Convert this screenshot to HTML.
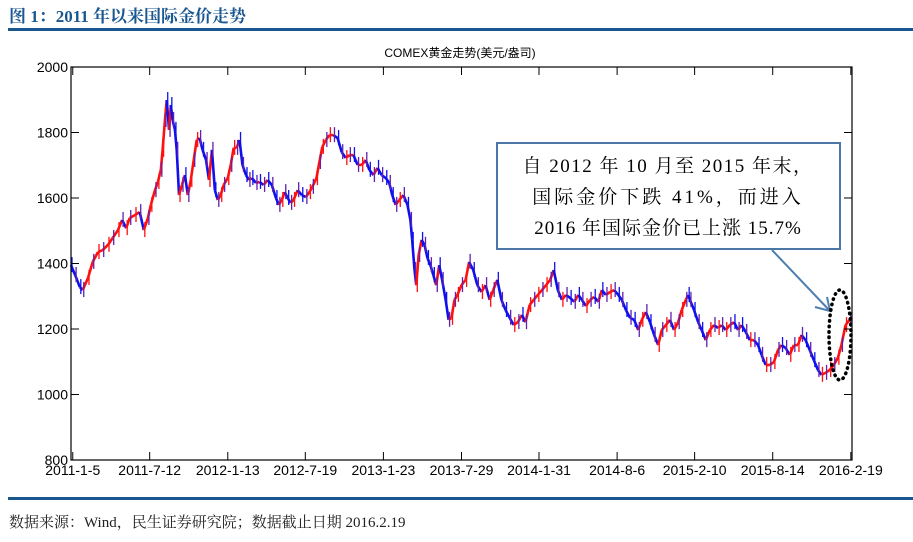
<!DOCTYPE html>
<html><head><meta charset="utf-8">
<style>
body{margin:0;background:#fff;width:913px;height:542px;overflow:hidden;position:relative;font-family:"Liberation Sans","Noto Sans CJK SC",sans-serif}
#hdr{position:absolute;left:9px;top:2px;font:bold 17px "Liberation Serif","Noto Serif CJK SC",serif;color:#1a5790}
#foot{position:absolute;left:9px;top:511px;font:15px "Liberation Serif","Noto Serif CJK SC",serif;color:#222}
</style></head><body>
<div id="hdr">图 1：2011 年以来国际金价走势</div>
<div style="position:absolute;left:8px;top:28px;width:905px;height:3px;background:#1a5790"></div>
<div style="position:absolute;left:8px;top:497px;width:905px;height:3px;background:#1a5790"></div>
<div id="foot">数据来源：Wind，民生证券研究院；数据截止日期 2016.2.19</div>
<svg id="chart" width="913" height="542" style="position:absolute;left:0;top:0">
<text x="460" y="57" text-anchor="middle" font-size="12" font-family="Liberation Sans, Noto Sans CJK SC, sans-serif">COMEX黄金走势(美元/盎司)</text>
<g id="marks"></g>
<rect x="71" y="67" width="781" height="393" fill="none" stroke="#000" stroke-width="1.2"/>
<g id="axes"></g>
<rect x="497" y="143" width="343" height="106" fill="#fff" stroke="#4a76a8" stroke-width="2"/>
<text x="668" y="172" text-anchor="middle" font-size="19" letter-spacing="1.5" font-family="Liberation Serif, Noto Serif CJK SC, serif">自 2012 年 10 月至 2015 年末，</text>
<text x="668" y="203" text-anchor="middle" font-size="19" letter-spacing="3" font-family="Liberation Serif, Noto Serif CJK SC, serif">国际金价下跌 41%，而进入</text>
<text x="668" y="234" text-anchor="middle" font-size="19" letter-spacing="1" font-family="Liberation Serif, Noto Serif CJK SC, serif">2016 年国际金价已上涨 15.7%</text>
<line x1="772" y1="250" x2="830" y2="311" stroke="#4f7fb0" stroke-width="2"/>
<polyline points="815,307 830,311 827,297" fill="none" stroke="#4f7fb0" stroke-width="2"/>
<ellipse cx="840" cy="335" rx="11" ry="45" fill="none" stroke="#000" stroke-width="3.5" stroke-dasharray="0.5 5" stroke-linecap="round"/>
</svg>
<script>
const days=[0,7,15,20,29,37,46,54,63,71,80,87,94,100,109,117,124,131,136,143,148,153,156,160,163,167,170,173,177,180,184,189,194,199,204,209,214,219,224,230,235,240,245,250,255,260,267,272,277,282,287,292,298,303,308,315,321,328,335,342,349,354,359,364,369,374,379,386,393,400,406,411,418,423,428,434,440,447,454,461,468,474,481,488,495,502,508,515,522,529,536,542,547,553,559,566,573,578,581,585,588,592,597,602,607,612,617,622,627,632,638,643,648,653,658,665,672,678,685,692,699,706,713,719,726,733,740,747,754,761,768,774,781,788,795,802,809,816,822,829,836,843,850,857,864,870,877,884,891,898,904,911,918,925,932,938,945,952,959,966,972,979,986,993,1000,1006,1013,1020,1027,1034,1040,1047,1051,1054,1061,1068,1074,1081,1088,1095,1102,1108,1115,1122,1129,1136,1142,1149,1156,1163,1170,1176,1183,1190,1197,1204,1210,1217,1224,1231,1238,1244,1251,1258,1265,1272,1278,1285,1292,1299,1306,1312,1319,1326,1330];
const prices=[1395,1365,1328,1319,1356,1405,1435,1441,1457,1478,1502,1533,1508,1539,1548,1557,1502,1539,1579,1624,1649,1686,1747,1838,1899,1808,1884,1838,1808,1747,1609,1640,1670,1609,1655,1716,1777,1783,1747,1716,1655,1747,1624,1594,1609,1640,1661,1701,1753,1753,1777,1701,1670,1655,1661,1646,1649,1640,1655,1640,1600,1579,1594,1618,1600,1585,1594,1624,1609,1603,1618,1634,1661,1710,1756,1777,1792,1792,1783,1740,1722,1731,1731,1701,1701,1716,1686,1670,1692,1670,1661,1646,1609,1579,1594,1609,1579,1533,1472,1380,1334,1426,1472,1457,1417,1395,1365,1334,1395,1350,1289,1228,1234,1289,1304,1334,1350,1405,1380,1334,1313,1334,1289,1319,1350,1289,1258,1234,1212,1221,1243,1221,1273,1289,1304,1319,1334,1350,1380,1319,1289,1304,1295,1283,1304,1289,1270,1289,1298,1283,1319,1304,1313,1319,1304,1289,1258,1234,1228,1197,1228,1252,1221,1182,1151,1197,1212,1228,1197,1221,1258,1289,1304,1289,1258,1221,1197,1166,1197,1212,1203,1212,1197,1212,1221,1197,1212,1191,1166,1166,1151,1121,1090,1090,1099,1136,1151,1142,1121,1151,1151,1182,1166,1136,1105,1075,1060,1066,1075,1090,1112,1151,1212,1228,1234];
const yTicks=[800,1000,1200,1400,1600,1800,2000];
const xTickDays=[3,134,267,399,532,665,797,930,1062,1195,1328];
const xTickLabels=["2011-1-5","2011-7-12","2012-1-13","2012-7-19","2013-1-23","2013-7-29","2014-1-31","2014-8-6","2015-2-10","2015-8-14","2016-2-19"];
const X0=71,X1=852,Y0=460,Y1=67;
function xs(d){return X0+(d-0)/(1330-0)*(X1-X0);}
function ys(v){return Y0-(v-800)/(2000-800)*(Y0-Y1);}
const NS="http://www.w3.org/2000/svg";
const marks=document.getElementById('marks'),axes=document.getElementById('axes');
function mk(tag,attrs,parent){const e=document.createElementNS(NS,tag);for(const k in attrs)e.setAttribute(k,attrs[k]);parent.appendChild(e);return e;}
const n=Math.min(days.length,prices.length);
for(let i=0;i<n-1;i++){
  const up=prices[i+1]>=prices[i];
  const col=up?'#ff1010':'#1010ee';
  const l=mk('line',{x1:xs(days[i]),y1:ys(prices[i]),x2:xs(days[i+1]),y2:ys(prices[i+1]),stroke:col,'stroke-width':2.6},marks);
  
  
  const w=mk('line',{x1:xs(days[i])+1,y1:ys(prices[i])-8,x2:xs(days[i])+1,y2:ys(prices[i])+7,stroke:i%2?'#6020b0':col,'stroke-width':1.3},marks);
  
  
}
yTicks.forEach(v=>{
  const y=ys(v);
  const t=mk('line',{x1:X0,y1:y,x2:X0+8,y2:y,stroke:'#000','stroke-width':1},axes);
  
  
  const t2=mk('line',{x1:X1-8,y1:y,x2:X1,y2:y,stroke:'#000','stroke-width':1},axes);
  
  
  const tx=mk('text',{x:X0-3,y:y+5,'text-anchor':'end','font-size':14,'font-family':'Liberation Sans, sans-serif'},axes);
  tx.textContent=v;
  
  
});
xTickDays.forEach((d,i)=>{
  const x=xs(d);
  const a=mk('line',{x1:x,y1:Y0,x2:x,y2:Y0-8,stroke:'#000','stroke-width':1},axes);
  
  
  const b=mk('line',{x1:x,y1:Y1,x2:x,y2:Y1+8,stroke:'#000','stroke-width':1},axes);
  
  
  const tx=mk('text',{x:x,y:Y0+15,'text-anchor':'middle','font-size':14,'font-family':'Liberation Sans, sans-serif'},axes);
  tx.textContent=xTickLabels[i];
  
  
});
</script>
</body></html>
